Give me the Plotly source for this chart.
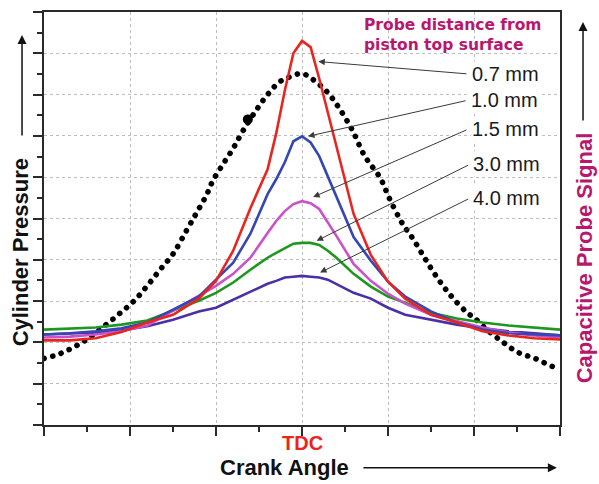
import plotly.graph_objects as go

# Crank angle (degrees relative to TDC) shared by the probe signal traces
crank_angle = [-30, -27, -24, -21, -18, -15, -12, -10, -8, -6, -4, -3, -2, -1,
               0, 1, 2, 3, 4, 6, 8, 10, 12, 15, 18, 21, 24, 27, 30]

# Capacitive probe signal for each probe-to-piston distance
signal_07 = [2.05, 2.05, 2.10, 2.25, 2.48, 2.67, 3.06, 3.49, 4.22, 5.25, 6.19, 7.06, 8.10, 9.00,
             9.30, 9.15, 8.39, 7.57, 6.82, 5.11, 4.12, 3.47, 3.06, 2.67, 2.48, 2.27, 2.17, 2.10, 2.07]
signal_10 = [2.19, 2.22, 2.27, 2.34, 2.48, 2.80, 3.11, 3.52, 3.93, 4.63, 5.59, 5.95, 6.36, 6.87,
             6.99, 6.84, 6.51, 6.02, 5.54, 4.55, 3.98, 3.47, 3.11, 2.75, 2.48, 2.31, 2.22, 2.19, 2.17]
signal_15 = [2.12, 2.14, 2.19, 2.27, 2.41, 2.77, 3.11, 3.37, 3.66, 4.05, 4.65, 4.94, 5.18, 5.35,
             5.42, 5.37, 5.23, 4.92, 4.58, 3.90, 3.49, 3.18, 2.94, 2.67, 2.51, 2.36, 2.24, 2.17, 2.12]
signal_30 = [2.31, 2.34, 2.36, 2.43, 2.53, 2.77, 3.01, 3.20, 3.45, 3.76, 4.05, 4.17, 4.29, 4.39,
             4.41, 4.41, 4.36, 4.22, 4.05, 3.66, 3.35, 3.11, 2.96, 2.72, 2.58, 2.48, 2.41, 2.36, 2.31]
signal_40 = [2.19, 2.22, 2.24, 2.29, 2.39, 2.55, 2.75, 2.84, 3.04, 3.23, 3.42, 3.49, 3.57, 3.59,
             3.61, 3.59, 3.57, 3.52, 3.42, 3.20, 3.06, 2.84, 2.67, 2.55, 2.43, 2.34, 2.27, 2.22, 2.17]

# Cylinder pressure trace
pressure_angle = [-30.0, -28.1, -26.4, -24.7, -22.9, -21.2, -19.5, -18.0, -16.5, -15.0, -13.4,
                  -12.2, -11.1, -10.4, -9.2, -8.0, -6.9, -5.2, -4.0, -2.6, -1.4, 0.0, 1.3, 2.9,
                  4.2, 5.8, 7.3, 9.1, 10.2, 11.7, 12.9, 14.1, 15.2, 16.4, 17.6, 19.2, 20.1, 21.6,
                  23.4, 25.1, 27.1, 29.1, 30.0]
pressure = [1.61, 1.73, 1.90, 2.12, 2.41, 2.70, 3.01, 3.37, 3.76, 4.14, 4.72, 5.16, 5.57, 5.90,
            6.31, 6.70, 7.11, 7.66, 8.00, 8.31, 8.43, 8.51, 8.36, 8.07, 7.71, 7.16, 6.51, 5.98,
            5.47, 4.87, 4.51, 4.10, 3.73, 3.37, 3.06, 2.72, 2.58, 2.29, 2.00, 1.76, 1.61, 1.42, 1.37]
pressure_blob = (-6.3, 7.40)

probe_labels = ["0.7 mm", "1.0 mm", "1.5 mm", "3.0 mm", "4.0 mm"]
probe_colors = ["#E8261F", "#3447B5", "#C951C9", "#1F961F", "#4A2FA6"]
probe_series = [signal_07, signal_10, signal_15, signal_30, signal_40]

# Label anchor (left end of each leader line) and the point it indicates
label_pos = [(19.3, 8.50), (19.2, 7.86), (19.3, 7.16), (19.5, 6.31), (19.5, 5.49)]
arrow_tips = [(1.9, 8.80), (0.7, 6.99), (1.3, 5.52), (1.7, 4.46), (2.1, 3.69)]

fig = go.Figure()

fig.add_trace(go.Scatter(
    x=pressure_angle, y=pressure, mode="lines",
    line=dict(color="black", width=5.6, dash="dot", shape="spline"),
    showlegend=False, hoverinfo="skip"))
fig.add_trace(go.Scatter(
    x=[pressure_blob[0]], y=[pressure_blob[1]], mode="markers",
    marker=dict(color="black", size=10), showlegend=False, hoverinfo="skip"))

# Draw the weakest signal first so the larger ones sit above it
for name, color, ys in reversed(list(zip(probe_labels, probe_colors, probe_series))):
    fig.add_trace(go.Scatter(
        x=crank_angle, y=ys, mode="lines", name=name,
        line=dict(color=color, width=2.6),
        showlegend=False))

annotations = []
for name, (lx, ly), (tx, ty) in zip(probe_labels, label_pos, arrow_tips):
    annotations.append(dict(
        x=tx, y=ty, ax=lx, ay=ly, xref="x", yref="y", axref="x", ayref="y",
        text="", showarrow=True, arrowhead=2, arrowsize=1.3, arrowwidth=1,
        arrowcolor="#3a3a3a", standoff=0, startstandoff=0))
    annotations.append(dict(
        x=lx + 0.2, y=ly, xref="x", yref="y", text=name, showarrow=False,
        xanchor="left", yanchor="middle", bgcolor="white", borderpad=1,
        font=dict(family="Liberation Sans, Arial", size=20, color="#1a1a1a")))

title_color = "#B8176E"
annotations += [
    dict(x=7.0, y=9.44, xref="x", yref="y",
         text="<b>Probe distance from<br>piston top surface</b>",
         showarrow=False, xanchor="left", yanchor="middle", align="left",
         font=dict(family="DejaVu Sans", size=15.5, color=title_color)),
    # Axis titles
    dict(x=-0.0465, y=0.418, xref="paper", yref="paper", text="<b>Cylinder Pressure</b>",
         textangle=-90, showarrow=False, xanchor="center", yanchor="middle",
         font=dict(family="Liberation Sans, Arial", size=22, color="#111111")),
    dict(x=1.0465, y=0.406, xref="paper", yref="paper", text="<b>Capacitive Probe Signal</b>",
         textangle=-90, showarrow=False, xanchor="center", yanchor="middle",
         font=dict(family="Liberation Sans, Arial", size=22, color=title_color)),
    dict(x=0, y=-0.0434, xref="x", yref="paper", text="<b>TDC</b>",
         showarrow=False, xanchor="center", yanchor="middle",
         font=dict(family="Liberation Sans, Arial", size=20, color="#E8261F")),
    dict(x=0.467, y=-0.1036, xref="paper", yref="paper", text="<b>Crank Angle</b>",
         showarrow=False, xanchor="center", yanchor="middle",
         font=dict(family="Liberation Sans, Arial", size=22, color="#111111")),
    # Direction arrows beside the axis titles
    dict(x=-0.0426, y=0.9446, xref="paper", yref="paper", ax=0, ay=102, text="",
         showarrow=True, arrowhead=2, arrowsize=1.2, arrowwidth=1.5, arrowcolor="#111111"),
    dict(x=1.0446, y=0.976, xref="paper", yref="paper", ax=0, ay=100, text="",
         showarrow=True, arrowhead=2, arrowsize=1.2, arrowwidth=1.5, arrowcolor="#111111"),
    dict(x=0.994, y=-0.1036, xref="paper", yref="paper", ax=-195, ay=0, text="",
         showarrow=True, arrowhead=2, arrowsize=1.2, arrowwidth=1.5, arrowcolor="#111111"),
]

axis_common = dict(
    showline=True, linecolor="#2a2a2a", linewidth=2, mirror=True,
    showgrid=True, gridcolor="#bdbdbd", gridwidth=1, griddash="dot",
    zeroline=False, ticks="outside", tickcolor="#2a2a2a", tickwidth=1.5, ticklen=9,
    showticklabels=False,
    minor=dict(ticks="outside", ticklen=5, tickwidth=1.5, tickcolor="#2a2a2a", showgrid=False),
)

fig.update_layout(
    width=599, height=484,
    margin=dict(l=44, r=39, t=10, b=59),
    plot_bgcolor="white", paper_bgcolor="white",
    xaxis=dict(range=[-30, 30], tick0=0, dtick=10, **axis_common),
    yaxis=dict(range=[0, 10], tick0=0, dtick=1, **axis_common),
    annotations=annotations,
    showlegend=False,
)
fig.update_xaxes(minor_dtick=5)
fig.update_yaxes(minor_dtick=0.5)

# Render the pressure trace as round dots rather than square dashes
round_dots = """
var gd = document.querySelector('.plotly-graph-div');
function roundDots() {
  var p = gd.querySelector('.scatterlayer .trace path.js-line');
  if (p) {
    p.style.setProperty('stroke-linecap', 'round');
    p.style.setProperty('stroke-dasharray', '0.1px, 8.8px');
  }
}
roundDots();
if (gd.on) { gd.on('plotly_afterplot', roundDots); }
"""

fig.write_html("out.html", post_script=round_dots)
